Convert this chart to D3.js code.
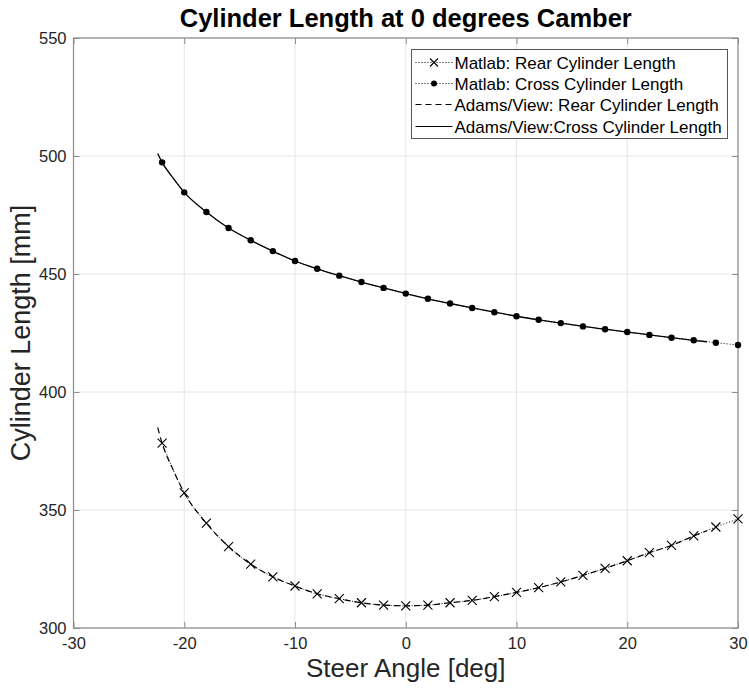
<!DOCTYPE html>
<html>
<head>
<meta charset="utf-8">
<script src="https://cdn.jsdelivr.net/npm/d3@7"></script>
<style>
  body { margin: 0; background: #fff; }
  svg { display: block; font-family: "Liberation Sans", Arial, sans-serif; }
</style>
</head>
<body>
<svg id="chart" width="749" height="690"></svg>
<script>
// Matlab samples (every 2 degrees)
const matlabAngle = [-22, -20, -18, -16, -14, -12, -10, -8, -6, -4, -2, 0, 2, 4, 6, 8, 10, 12, 14, 16, 18, 20, 22, 24, 26, 28, 30];
const matlabRear = [378.3, 357.3, 344.4, 334.5, 327.1, 321.7, 317.8, 314.5, 312.4, 310.7, 309.7, 309.4, 309.7, 310.7, 311.7, 313.3, 315.1, 317.1, 319.5, 322.3, 325.3, 328.5, 331.9, 335.0, 339.0, 342.8, 346.2];
const matlabCross = [497.3, 484.6, 476.3, 469.5, 464.3, 459.7, 455.5, 452.2, 449.3, 446.6, 444.1, 441.7, 439.5, 437.5, 435.6, 433.8, 432.1, 430.6, 429.2, 427.8, 426.6, 425.4, 424.2, 423.0, 421.9, 420.9, 419.9];

// Adams/View simulation output
const adamsAngle = [-22.4, -22, -21, -20, -18, -16, -14, -12, -10, -8, -6, -4, -2, 0, 2, 4, 6, 8, 10, 12, 14, 16, 18, 20, 22, 24, 26, 27.2];
const adamsRear = [385.0, 378.3, 367.0, 357.3, 344.4, 334.5, 327.1, 321.7, 317.8, 314.5, 312.4, 310.7, 309.7, 309.4, 309.7, 310.7, 311.7, 313.3, 315.1, 317.1, 319.5, 322.3, 325.3, 328.5, 331.9, 335.0, 339.0, 341.2];
const adamsCross = [501.1, 497.3, 490.6, 484.6, 476.3, 469.5, 464.3, 459.7, 455.5, 452.2, 449.3, 446.6, 444.1, 441.7, 439.5, 437.5, 435.6, 433.8, 432.1, 430.6, 429.2, 427.8, 426.6, 425.4, 424.2, 423.0, 421.9, 421.3];

const xTicks = [-30, -20, -10, 0, 10, 20, 30];
const yTicks = [300, 350, 400, 450, 500, 550];

const legendNames = ['Matlab: Rear Cylinder Length', 'Matlab: Cross Cylinder Length', 'Adams/View: Rear Cylinder Length', 'Adams/View:Cross Cylinder Length'];

const width = 749, height = 690;
const margin = { top: 38, right: 11, bottom: 62, left: 73.5 };
const axisColor = '#8c8c8c', textColor = '#262626', gridColor = '#e6e6e6';

const svg = d3.select('#chart');

const x = d3.scaleLinear().domain([-30, 30]).range([margin.left, width - margin.right]);
const y = d3.scaleLinear().domain([300, 550]).range([height - margin.bottom, margin.top]);

// plain hyphen minus, like matlab
const fmt = d => String(d);

// grid
const grid = svg.append('g');
grid.selectAll('.gx').data(xTicks).enter().append('line')
    .attr('x1', d => x(d)).attr('x2', d => x(d))
    .attr('y1', y(300)).attr('y2', y(550))
    .attr('stroke', gridColor).attr('stroke-width', 1);
grid.selectAll('.gy').data(yTicks).enter().append('line')
    .attr('x1', x(-30)).attr('x2', x(30))
    .attr('y1', d => y(d)).attr('y2', d => y(d))
    .attr('stroke', gridColor).attr('stroke-width', 1);

// axes, ticks pointing inward
const styleAxis = (g, showText) => {
    g.select('.domain').remove();
    g.selectAll('.tick line').attr('stroke', axisColor);
    g.selectAll('.tick text')
        .attr('fill', textColor)
        .attr('font-size', '16.5px')
        .style('display', showText ? null : 'none');
};

svg.append('g')
    .attr('transform', `translate(0,${y(300)})`)
    .call(d3.axisBottom(x).tickValues(xTicks).tickSize(-6).tickPadding(9).tickFormat(fmt))
    .call(g => styleAxis(g, true));
svg.append('g')
    .attr('transform', `translate(0,${y(550)})`)
    .call(d3.axisTop(x).tickValues(xTicks).tickSize(-6))
    .call(g => styleAxis(g, false));
svg.append('g')
    .attr('transform', `translate(${x(-30)},0)`)
    .call(d3.axisLeft(y).tickValues(yTicks).tickSize(-6).tickPadding(7).tickFormat(fmt))
    .call(g => styleAxis(g, true));
svg.append('g')
    .attr('transform', `translate(${x(30)},0)`)
    .call(d3.axisRight(y).tickValues(yTicks).tickSize(-6))
    .call(g => styleAxis(g, false));

// box
svg.append('rect')
    .attr('x', x(-30)).attr('y', y(550))
    .attr('width', x(30) - x(-30)).attr('height', y(300) - y(550))
    .attr('fill', 'none').attr('stroke', axisColor).attr('stroke-width', 1.2);

// series
const line = d3.line().x(d => x(d[0])).y(d => y(d[1])).curve(d3.curveMonotoneX);
const zip = (a, b) => a.map((v, i) => [v, b[i]]);

const plot = svg.append('g');
plot.append('path').datum(zip(adamsAngle, adamsCross)).attr('d', line)
    .attr('fill', 'none').attr('stroke', '#000').attr('stroke-width', 1.3);
plot.append('path').datum(zip(adamsAngle, adamsRear)).attr('d', line)
    .attr('fill', 'none').attr('stroke', '#000').attr('stroke-width', 1.2)
    .attr('stroke-dasharray', '6,4');
plot.append('path').datum(zip(matlabAngle, matlabCross)).attr('d', line)
    .attr('fill', 'none').attr('stroke', '#000').attr('stroke-width', 1)
    .attr('stroke-dasharray', '1,2');
plot.append('path').datum(zip(matlabAngle, matlabRear)).attr('d', line)
    .attr('fill', 'none').attr('stroke', '#000').attr('stroke-width', 1)
    .attr('stroke-dasharray', '1,2');

plot.selectAll('.dot').data(zip(matlabAngle, matlabCross)).enter().append('circle')
    .attr('cx', d => x(d[0])).attr('cy', d => y(d[1])).attr('r', 3.2).attr('fill', '#000');

const cross = s => `M${-s},${-s}L${s},${s}M${-s},${s}L${s},${-s}`;
plot.selectAll('.xm').data(zip(matlabAngle, matlabRear)).enter().append('path')
    .attr('transform', d => `translate(${x(d[0])},${y(d[1])})`)
    .attr('d', cross(4.5)).attr('stroke', '#000').attr('stroke-width', 1.1).attr('fill', 'none');

// titles
svg.append('text')
    .attr('x', (x(-30) + x(30)) / 2).attr('y', 27)
    .attr('text-anchor', 'middle').attr('font-size', '25.5px').attr('font-weight', 'bold')
    .attr('fill', '#000')
    .text('Cylinder Length at 0 degrees Camber');
svg.append('text')
    .attr('x', (x(-30) + x(30)) / 2).attr('y', 677)
    .attr('text-anchor', 'middle').attr('font-size', '26px').attr('fill', textColor)
    .text('Steer Angle [deg]');
svg.append('text')
    .attr('transform', `translate(30,${(y(300) + y(550)) / 2}) rotate(-90)`)
    .attr('text-anchor', 'middle').attr('font-size', '27px').attr('fill', textColor)
    .text('Cylinder Length [mm]');

// legend
const legend = svg.append('g').attr('transform', 'translate(411.5,49.5)');
legend.append('rect').attr('width', 316).attr('height', 89)
    .attr('fill', '#fff').attr('stroke', '#555').attr('stroke-width', 1);
const rowY = [13, 34, 55, 77];
legendNames.forEach((name, i) => {
    const g = legend.append('g').attr('transform', `translate(0,${rowY[i]})`);
    const l = g.append('line').attr('x1', 4).attr('x2', 41).attr('y1', 0).attr('y2', 0)
        .attr('stroke', '#000');
    if (i < 2) l.attr('stroke-dasharray', '1,2').attr('stroke-width', 1);
    else if (i === 2) l.attr('stroke-dasharray', '6,4').attr('stroke-width', 1.2);
    else l.attr('stroke-width', 1.2);
    if (i === 0) g.append('path').attr('transform', 'translate(22.5,0)').attr('d', cross(4))
        .attr('stroke', '#000').attr('stroke-width', 1.1);
    if (i === 1) g.append('circle').attr('cx', 22.5).attr('cy', 0).attr('r', 3).attr('fill', '#000');
    g.append('text').attr('x', 43).attr('y', 6).attr('font-size', '17px').attr('fill', '#000')
        .text(name);
});
</script>
</body>
</html>
